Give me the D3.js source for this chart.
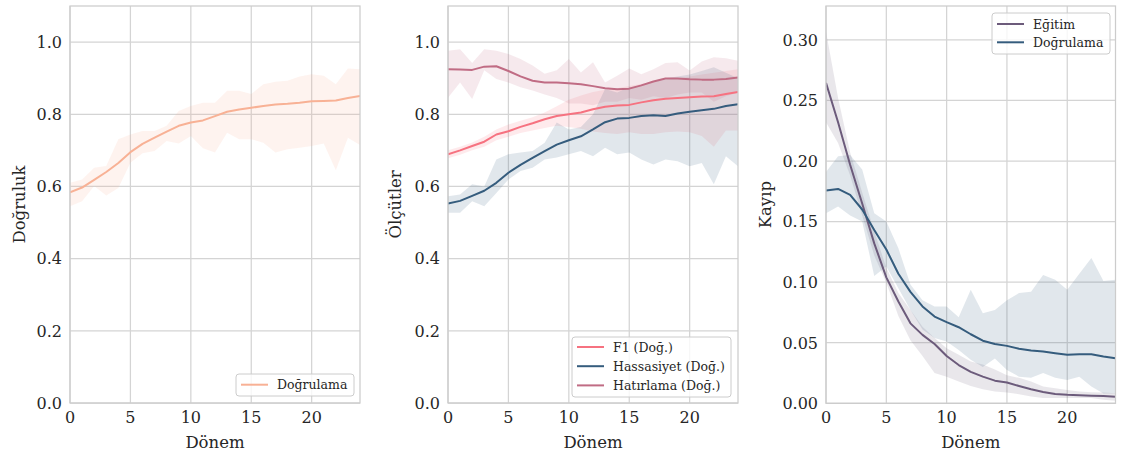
<!DOCTYPE html>
<html><head><meta charset="utf-8">
<script src="https://cdn.jsdelivr.net/npm/d3@7"></script>
<style>body{margin:0;background:#fff}svg{display:block}text{font-family:"DejaVu Serif",serif;fill:#262626}</style>
</head><body><svg id="c" width="1128" height="459"></svg>
<script>
const epochs = [0,1,2,3,4,5,6,7,8,9,10,11,12,13,14,15,16,17,18,19,20,21,22,23,24];
const xTicks = [0,5,10,15,20];
const accTicks = [0,0.2,0.4,0.6,0.8,1.0];
const lossTicks = [0,0.05,0.10,0.15,0.20,0.25,0.30];

// Panel 1: validation accuracy
const valAcc   = [0.584,0.597,0.618,0.640,0.665,0.695,0.718,0.735,0.752,0.768,0.777,0.783,0.795,0.807,0.813,0.818,0.823,0.827,0.829,0.832,0.836,0.837,0.838,0.845,0.851];
const valAccHi = [0.610,0.619,0.652,0.657,0.731,0.744,0.754,0.754,0.768,0.809,0.823,0.832,0.832,0.865,0.865,0.856,0.883,0.890,0.893,0.905,0.911,0.907,0.883,0.927,0.925];
const valAccLo = [0.545,0.559,0.601,0.575,0.596,0.666,0.692,0.698,0.726,0.719,0.740,0.706,0.694,0.749,0.731,0.731,0.721,0.694,0.703,0.707,0.712,0.719,0.645,0.735,0.715];

// Panel 2: metrics
const f1     = [0.689,0.700,0.712,0.724,0.744,0.753,0.765,0.775,0.786,0.795,0.800,0.805,0.814,0.821,0.824,0.826,0.833,0.839,0.843,0.845,0.847,0.849,0.850,0.856,0.862];
const f1Hi   = [0.700,0.710,0.722,0.738,0.758,0.772,0.782,0.792,0.805,0.822,0.840,0.852,0.862,0.868,0.872,0.878,0.884,0.890,0.896,0.900,0.905,0.910,0.915,0.920,0.925];
const f1Lo   = [0.678,0.688,0.700,0.710,0.728,0.738,0.748,0.755,0.762,0.768,0.765,0.760,0.752,0.748,0.745,0.750,0.745,0.745,0.750,0.752,0.750,0.740,0.710,0.755,0.755];
const prec   = [0.553,0.560,0.574,0.588,0.610,0.638,0.660,0.679,0.698,0.716,0.728,0.739,0.758,0.778,0.788,0.790,0.795,0.797,0.795,0.802,0.807,0.811,0.815,0.823,0.828];
const precHi = [0.573,0.578,0.606,0.600,0.675,0.689,0.694,0.698,0.721,0.777,0.758,0.765,0.800,0.870,0.860,0.875,0.880,0.890,0.900,0.905,0.910,0.920,0.930,0.915,0.900];
const precLo = [0.527,0.527,0.559,0.545,0.582,0.619,0.643,0.652,0.675,0.680,0.689,0.698,0.684,0.707,0.689,0.694,0.675,0.661,0.675,0.670,0.656,0.665,0.606,0.684,0.656];
const rec    = [0.925,0.924,0.923,0.932,0.933,0.920,0.905,0.893,0.888,0.888,0.886,0.883,0.878,0.872,0.869,0.871,0.880,0.891,0.899,0.899,0.897,0.896,0.896,0.898,0.902];
const recHi  = [0.976,0.980,0.942,0.980,0.976,0.967,0.953,0.935,0.912,0.922,0.953,0.916,0.944,0.888,0.907,0.927,0.911,0.925,0.942,0.944,0.921,0.946,0.958,0.955,0.948];
const recLo  = [0.846,0.888,0.842,0.922,0.898,0.888,0.875,0.866,0.855,0.845,0.830,0.830,0.825,0.835,0.835,0.845,0.840,0.850,0.845,0.855,0.860,0.860,0.835,0.850,0.860];

// Panel 3: loss
const trainLoss = [0.2645,0.232,0.197,0.165,0.132,0.104,0.084,0.066,0.0565,0.049,0.039,0.0316,0.026,0.022,0.0187,0.0171,0.0143,0.0116,0.0094,0.0077,0.007,0.0066,0.0063,0.006,0.0055];
const trainHi   = [0.307,0.252,0.207,0.174,0.142,0.112,0.091,0.077,0.0633,0.054,0.0455,0.040,0.0345,0.032,0.028,0.0232,0.021,0.018,0.0138,0.0124,0.011,0.0097,0.0092,0.009,0.0083];
const trainLo   = [0.232,0.215,0.188,0.155,0.122,0.0995,0.072,0.052,0.039,0.025,0.022,0.018,0.0143,0.0116,0.0097,0.009,0.0075,0.0056,0.0043,0.0043,0.0043,0.0043,0.0043,0.003,0.0022];
const valLoss   = [0.1757,0.177,0.172,0.160,0.143,0.127,0.107,0.092,0.080,0.0716,0.067,0.0628,0.057,0.0517,0.049,0.0474,0.045,0.0435,0.0427,0.0413,0.040,0.0405,0.0405,0.0386,0.0372];
const valHi     = [0.191,0.204,0.205,0.193,0.157,0.150,0.128,0.098,0.085,0.080,0.080,0.071,0.0937,0.0743,0.077,0.085,0.091,0.092,0.106,0.102,0.0937,0.107,0.120,0.101,0.102];
const valLo     = [0.157,0.1625,0.155,0.150,0.105,0.113,0.095,0.077,0.061,0.054,0.051,0.044,0.036,0.030,0.037,0.0275,0.022,0.021,0.025,0.021,0.0193,0.022,0.0138,0.008,0.008];

const svg = d3.select("#c");
const C = {peach:"#F8B195", f1:"#F67280", rec:"#C06C84", train:"#6C5B7B", blue:"#355C7D"};

function panel(o){
  const x = d3.scaleLinear().domain([0,24]).range([o.x0,o.x1]);
  const y = d3.scaleLinear().domain(o.yDom).range([o.y1,o.y0]);
  const g = svg.append("g");
  // grid
  g.selectAll(".gx").data(xTicks).join("line")
    .attr("x1",d=>x(d)).attr("x2",d=>x(d)).attr("y1",o.y0).attr("y2",o.y1)
    .attr("stroke","#d4d4d4").attr("stroke-width",1.25);
  g.selectAll(".gy").data(o.yTicks).join("line")
    .attr("y1",d=>y(d)).attr("y2",d=>y(d)).attr("x1",o.x0).attr("x2",o.x1)
    .attr("stroke","#d4d4d4").attr("stroke-width",1.25);
  // bands and lines
  o.series.forEach(s=>{
    const area = d3.area().x((d,i)=>x(epochs[i])).y0((d,i)=>y(s.lo[i])).y1((d,i)=>y(s.hi[i]));
    g.append("path").attr("d",area(s.v)).attr("fill",s.color).attr("fill-opacity",0.15).attr("stroke","none");
  });
  const clip = "clip"+o.id;
  svg.append("clipPath").attr("id",clip).append("rect")
    .attr("x",o.x0).attr("y",o.y0).attr("width",o.x1-o.x0).attr("height",o.y1-o.y0);
  o.series.forEach(s=>{
    const line = d3.line().x((d,i)=>x(epochs[i])).y(d=>y(d));
    g.append("path").attr("d",line(s.v)).attr("fill","none").attr("stroke",s.color)
      .attr("stroke-width",2).attr("stroke-linejoin","round").attr("stroke-linecap","butt")
      .attr("clip-path",`url(#${clip})`);
  });
  // frame
  g.append("rect").attr("x",o.x0).attr("y",o.y0).attr("width",o.x1-o.x0).attr("height",o.y1-o.y0)
    .attr("fill","none").attr("stroke","#cccccc").attr("stroke-width",1.25);
  // tick labels
  g.selectAll(".tx").data(xTicks).join("text")
    .attr("x",d=>x(d)).attr("y",423).attr("text-anchor","middle").attr("font-size",16).text(d=>d);
  g.selectAll(".ty").data(o.yTicks).join("text")
    .attr("x",o.x0-8).attr("y",d=>y(d)+5.8).attr("text-anchor","end").attr("font-size",16).text(d=>o.fmt(d));
  // axis labels
  g.append("text").attr("x",(o.x0+o.x1)/2).attr("y",448).attr("text-anchor","middle").attr("font-size",16.5).text("Dönem");
  g.append("text").attr("transform",`translate(${o.ylx},${(o.y0+o.y1)/2}) rotate(-90)`)
    .attr("text-anchor","middle").attr("font-size",16.5).text(o.ylabel);
  // legend
  const L = o.legend;
  g.append("rect").attr("x",L.x).attr("y",L.y).attr("width",L.w).attr("height",L.h).attr("rx",3)
    .attr("fill","#fff").attr("fill-opacity",0.8).attr("stroke","#cccccc").attr("stroke-width",1);
  o.series.forEach((s,i)=>{
    const ly = L.y + L.first + i*L.step;
    g.append("line").attr("x1",L.x+5).attr("x2",L.x+32).attr("y1",ly).attr("y2",ly)
      .attr("stroke",s.color).attr("stroke-width",2);
    g.append("text").attr("x",L.x+41).attr("y",ly+4.5).attr("font-size",12.5).text(s.name);
  });
}

panel({id:1,x0:70,x1:360,y0:6,y1:403,yDom:[0,1.1],yTicks:accTicks,fmt:d3.format(".1f"),
  ylabel:"Doğruluk",ylx:25,
  legend:{x:236,y:374,w:118,h:22,first:10.7,step:19},
  series:[{name:"Doğrulama",v:valAcc,hi:valAccHi,lo:valAccLo,color:C.peach}]});

panel({id:2,x0:448,x1:738,y0:6,y1:403,yDom:[0,1.1],yTicks:accTicks,fmt:d3.format(".1f"),
  ylabel:"Ölçütler",ylx:401,
  legend:{x:572,y:337,w:159,h:60,first:10,step:19.2},
  series:[{name:"F1 (Doğ.)",v:f1,hi:f1Hi,lo:f1Lo,color:C.f1},
          {name:"Hassasiyet (Doğ.)",v:prec,hi:precHi,lo:precLo,color:C.blue},
          {name:"Hatırlama (Doğ.)",v:rec,hi:recHi,lo:recLo,color:C.rec}]});

panel({id:3,x0:826,x1:1115.5,y0:6,y1:403.3,yDom:[0,0.328],yTicks:lossTicks,fmt:d3.format(".2f"),
  ylabel:"Kayıp",ylx:771,
  legend:{x:992,y:13,w:118,h:41,first:11,step:18.3},
  series:[{name:"Eğitim",v:trainLoss,hi:trainHi,lo:trainLo,color:C.train},
          {name:"Doğrulama",v:valLoss,hi:valHi,lo:valLo,color:C.blue}]});
</script></body></html>
